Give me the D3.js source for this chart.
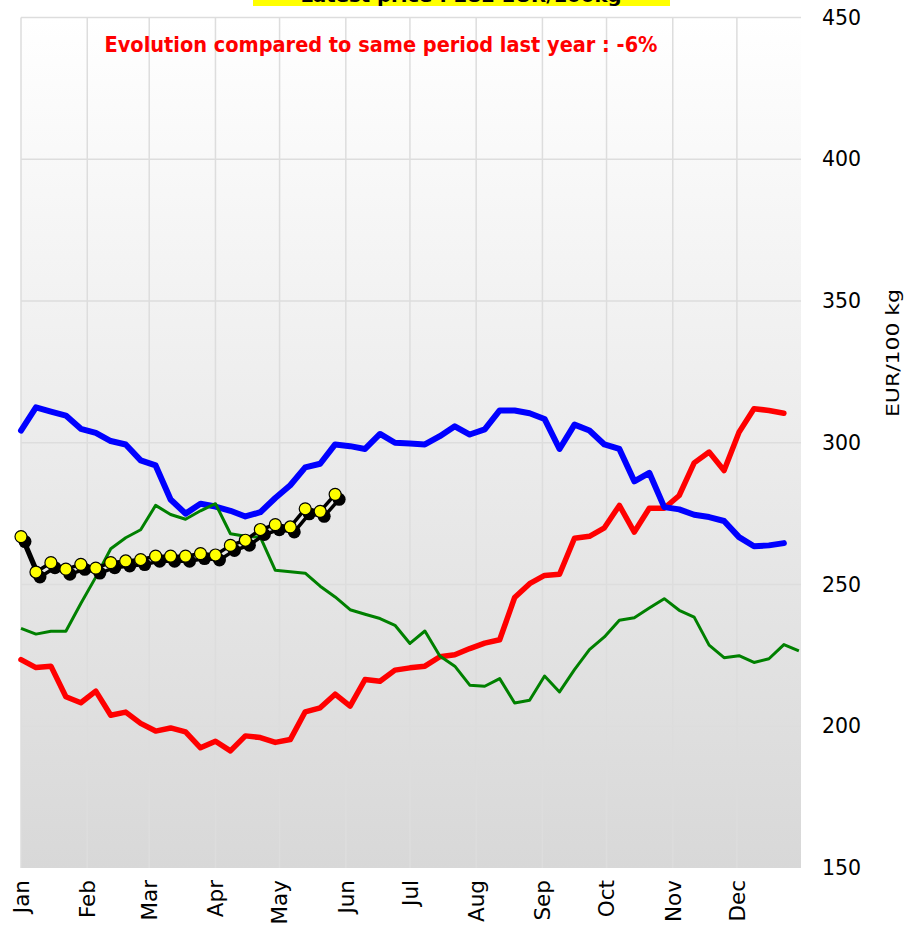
<!DOCTYPE html>
<html><head><meta charset="utf-8">
<script src="https://cdn.jsdelivr.net/npm/d3@7"></script>
<style>
body{margin:0;background:#fff;}
svg{display:block;font-family:"DejaVu Sans",Verdana,sans-serif;}
</style>
</head><body>
<svg id="chart" width="910" height="928"></svg>
<script>
// ---- data ----
const monthLabels = ["Jan","Feb","Mar","Apr","May","Jun","Jul","Aug","Sep","Oct","Nov","Dec"];
const yTicks = [150,200,250,300,350,400,450];
const titleText = "Latest price : 282 EUR/100kg";
const evolutionText = "Evolution compared to same period last year : -6%";
const yAxisTitle = "EUR/100 kg";

const blueValues = [304.3,312.5,311,309.6,304.9,303.5,300.6,299.4,293.8,292,280,275,278.5,277.5,276,274,
  275.5,280.5,285,291.3,292.6,299.4,298.8,297.8,303.1,300,299.7,299.4,302.3,305.8,302.9,304.7,311.4,311.4,
  310.4,308.4,297.8,306.4,304.3,299.4,297.8,286.4,289.4,277.3,276.5,274.6,273.8,272.4,266.7,263.5,263.8,264.6];
const redValues = [223.5,220.7,221.2,210.4,208.3,212.4,203.9,205,201,198.3,199.4,198,192.4,194.7,191.3,196.6,
  196,194.3,195.3,205.1,206.5,211.3,207.1,216.5,215.9,219.8,220.6,221.2,224.5,225.2,227.4,229.3,230.5,245.4,
  250.3,253.2,253.6,266.3,267,270,277.9,268.5,276.9,276.9,281.4,292.9,296.7,290.2,303.7,312,311.4,310.4];
const greenValues = [234.5,232.5,233.5,233.5,243.3,252.6,262.6,266.5,269.3,277.9,274.7,273,276,278.5,267.9,267,
  266.7,255,254.5,254,249.4,245.6,241.1,239.5,238,235.6,229.2,233.6,224.8,221.2,214.5,214.1,216.8,208.2,209.2,
  217.7,212.1,220,227,231.5,237.4,238.3,241.7,245,240.9,238.5,228.6,224.2,224.9,222.5,223.8,228.8,226.6];
const currentValues = [266.9,254.4,257.7,255.4,257.1,255.8,257.7,258.3,258.8,260.0,260.0,260.0,260.9,260.4,
  263.8,265.6,269.4,271.1,270.3,276.7,275.8,281.8];

// ---- layout ----
const svg = d3.select("#chart");
const pLeft = 21, pRight = 801, pTop = 17.5, pBottom = 868;
const yearStart = new Date(2024,0,1), yearEnd = new Date(2024,11,31);
const x = d3.scaleTime().domain([yearStart, yearEnd]).range([pLeft, pRight]);
const y = d3.scaleLinear().domain([150,450]).range([pBottom, pTop]);
const weekDate = i => d3.timeDay.offset(yearStart, 7*i);

// background gradient
const defs = svg.append("defs");
const grad = defs.append("linearGradient").attr("id","bg").attr("x1",0).attr("y1",0).attr("x2",0).attr("y2",1);
grad.append("stop").attr("offset","0%").attr("stop-color","#ffffff");
grad.append("stop").attr("offset","100%").attr("stop-color","#d8d8d8");
svg.append("rect").attr("x",pLeft).attr("y",pTop).attr("width",pRight-pLeft).attr("height",pBottom-pTop).attr("fill","url(#bg)");

// grid
const monthDates = d3.timeMonth.range(yearStart, yearEnd);
svg.append("g").selectAll("line").data(monthDates).join("line")
  .attr("x1",d=>x(d)).attr("x2",d=>x(d)).attr("y1",pTop).attr("y2",pBottom)
  .attr("stroke","#dddddd").attr("stroke-width",1.5);
svg.append("g").selectAll("line").data(yTicks.filter(t=>t>150)).join("line")
  .attr("x1",pLeft).attr("x2",pRight).attr("y1",d=>y(d)).attr("y2",d=>y(d))
  .attr("stroke","#dddddd").attr("stroke-width",1.5);

// y axis labels (right)
const yAxis = d3.axisRight(y).tickValues(yTicks).tickSize(0).tickPadding(0);
const ya = svg.append("g").attr("transform",`translate(822,0)`).call(yAxis);
ya.select(".domain").remove();
ya.selectAll("text").attr("font-size",20.5).attr("fill","#000").attr("font-family","DejaVu Sans").attr("x",0);

// x axis labels
svg.append("g").selectAll("text").data(monthDates).join("text")
  .attr("transform",d=>`translate(${x(d)},880) rotate(-90)`)
  .attr("text-anchor","end").attr("dy","0.36em")
  .attr("font-size",21.5).attr("fill","#000")
  .text((d,i)=>monthLabels[i]);

// y axis title
svg.append("text").attr("transform","translate(893,353) rotate(-90)")
  .attr("text-anchor","middle").attr("dy","0.36em").attr("font-size",17)
  .attr("textLength",128).attr("lengthAdjust","spacingAndGlyphs")
  .text(yAxisTitle);

// lines
const line = d3.line().x((d,i)=>x(weekDate(i))).y(d=>y(d));
svg.append("path").datum(redValues).attr("d",line).attr("fill","none")
  .attr("stroke","#ff0000").attr("stroke-width",5.5).attr("stroke-linejoin","round").attr("stroke-linecap","round");
svg.append("path").datum(blueValues).attr("d",line).attr("fill","none")
  .attr("stroke","#0000ff").attr("stroke-width",6).attr("stroke-linejoin","round").attr("stroke-linecap","round");
svg.append("path").datum(greenValues).attr("d",line).attr("fill","none")
  .attr("stroke","#008000").attr("stroke-width",3).attr("stroke-linejoin","round");

// current year series with shadow
const cur = svg.append("g");
cur.append("path").datum(currentValues).attr("d",line).attr("fill","none")
  .attr("transform","translate(4,5)")
  .attr("stroke","#000").attr("stroke-width",3.5).attr("stroke-linejoin","round");
cur.append("g").attr("transform","translate(4,5)").selectAll("circle").data(currentValues).join("circle")
  .attr("cx",(d,i)=>x(weekDate(i))).attr("cy",d=>y(d)).attr("r",6.5).attr("fill","#000");
cur.append("path").datum(currentValues).attr("d",line).attr("fill","none")
  .attr("stroke","#000").attr("stroke-width",3.5).attr("stroke-linejoin","round");
cur.append("g").selectAll("circle").data(currentValues).join("circle")
  .attr("cx",(d,i)=>x(weekDate(i))).attr("cy",d=>y(d)).attr("r",6)
  .attr("fill","#ffff00").attr("stroke","#000").attr("stroke-width",1.2);

// title box (cut off at the top, as in the source image)
svg.append("rect").attr("x",253).attr("y",-20).attr("width",417).attr("height",26).attr("fill","#ffff00");
svg.append("text").attr("x",461).attr("y",2).attr("text-anchor","middle")
  .attr("font-size",18).attr("font-weight","bold").attr("fill","#000")
  .attr("textLength",321).attr("lengthAdjust","spacingAndGlyphs").text(titleText);

// evolution text
svg.append("text").attr("x",381).attr("y",52).attr("text-anchor","middle")
  .attr("font-size",21).attr("font-weight","bold").attr("fill","#ff0000")
  .attr("textLength",553).attr("lengthAdjust","spacingAndGlyphs").text(evolutionText);
</script>
</body></html>
